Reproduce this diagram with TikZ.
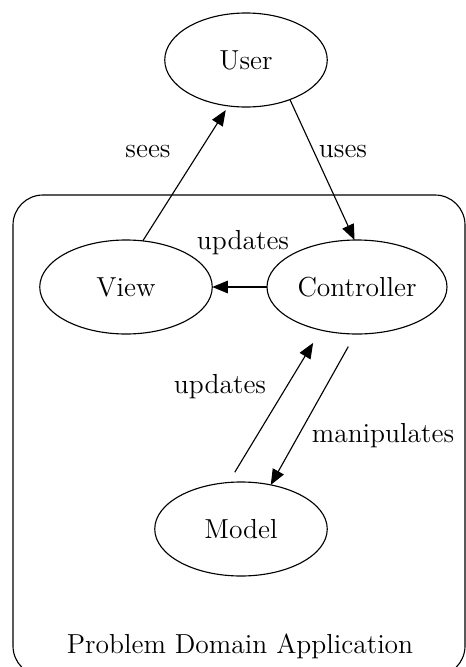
\documentclass[tikz,border=0pt]{standalone}
\usetikzlibrary{shapes.geometric,arrows.meta}
\begin{document}
\begin{tikzpicture}[x=0.4pt,y=-0.4pt,
  every node/.style={font=\fontsize{11}{13}\selectfont},
  state/.style={ellipse,draw,line width=0.45pt,inner sep=0pt,outer sep=0pt,
    minimum width=68pt,minimum height=37.6pt},
  arr/.style={line width=0.45pt,-{Triangle[length=6.2pt,width=5pt]}},
  lbl/.style={inner sep=1pt}]
\useasboundingbox (0,0) rectangle (466,667);
% application boundary
\draw[line width=0.45pt,rounded corners=12pt] (13,195) rectangle (465,676);
\node[lbl] (domain) at (240,646) {Problem Domain Application};
% states
\node[state,minimum width=65pt] (user) at (246,60) {User};
\node[state,minimum width=69pt] (view) at (126,287) {View};
\node[state,minimum width=72pt] (controller) at (357,287) {Controller};
\node[state,minimum width=69pt] (model) at (241,529) {Model};
% connectors
\draw[arr,shorten >=2pt] (view.70) -- (user.249);
\draw[arr] (user.318) -- (controller.93);
\draw[arr] (controller.west) -- (view.east);
\draw[arr,shorten <=5.8pt] (controller.268) -- (model.56);
\draw[arr,shorten <=4.8pt,shorten >=6pt] (model.105) -- (controller.230);
% connector labels
\node[lbl] (seesL) at (148,152) {sees};
\node[lbl] (usesL) at (343,152) {uses};
\node[lbl] (updTop) at (243,243) {updates};
\node[lbl] (updLow) at (220,387) {updates};
\node[lbl] (manip) at (383,436) {manipulates};
\end{tikzpicture}
\end{document}
